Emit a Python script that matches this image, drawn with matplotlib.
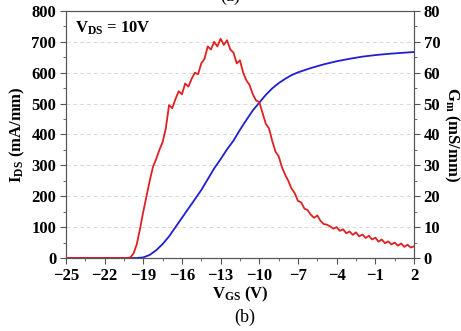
import numpy as np
import matplotlib
matplotlib.use('Agg')
import matplotlib.pyplot as plt

plt.rcParams['font.family'] = 'Liberation Serif'
plt.rcParams['mathtext.fontset'] = 'custom'
plt.rcParams['mathtext.rm'] = 'Liberation Serif:bold'
plt.rcParams['mathtext.it'] = 'Liberation Serif:bold'
plt.rcParams['mathtext.bf'] = 'Liberation Serif:bold'

# drain current (left axis), mA/mm
vgs_ids = [-25, -19.5, -19, -18.5, -18, -17.5, -17, -16.5, -16, -15.5, -15, -14.5, -14,
           -13.5, -13, -12.5, -12, -11.5, -11, -10.5, -10, -9.5, -9, -8.5, -8, -7.5, -7,
           -6, -5, -4, -3, -2, -1, 0, 1, 2]
ids = [0, 0, 2, 10, 25, 45, 70, 100, 130, 160, 190, 220, 255,
       290, 320, 352, 380, 415, 447, 478, 503, 528, 549, 566, 580, 592, 601,
       615, 627, 637, 645, 652, 657, 661, 664, 667]

# transconductance (right axis), mS/mm
vgs_gm = [-25, -20.25, -20, -19.75, -19.5, -19.25, -19, -18.75, -18.5, -18.25, -18,
          -17.75, -17.5, -17.25, -17, -16.75, -16.5, -16.25, -16, -15.75, -15.5,
          -15.25, -15, -14.75, -14.5, -14.25, -14, -13.75, -13.5, -13.25, -13,
          -12.75, -12.5, -12.25, -12, -11.75, -11.5, -11.25, -11, -10.75, -10.5,
          -10.25, -10, -9.75, -9.5, -9.25, -9, -8.75, -8.5, -8.25, -8,
          -7.75, -7.5, -7.25, -7, -6.75, -6.5, -6.25, -6, -5.75, -5.5,
          -5.25, -5, -4.75, -4.5, -4.25, -4, -3.75, -3.5, -3.25, -3,
          -2.75, -2.5, -2.25, -2, -1.75, -1.5, -1.25, -1, -0.75, -0.5,
          -0.25, 0, 0.25, 0.5, 0.75, 1, 1.25, 1.5, 1.75, 2]
gm = [0, 0, 0.2, 1.5, 4.5, 9.5, 15, 20, 25, 29.5, 32,
      35, 37.5, 42, 49.5, 48.5, 51.5, 54, 53, 56.5, 55.5,
      58, 60, 59.5, 63, 64.5, 68.5, 67.5, 70, 68.5, 71,
      69, 70.5, 67.5, 66.5, 63, 64, 60, 57.5, 56, 53,
      51, 50.5, 47, 43.5, 42, 38, 34.5, 33, 29.5, 27,
      25, 22.5, 21, 18.5, 18, 16, 15.5, 14, 13, 13.8,
      12, 11, 10.8, 10.2, 9.5, 10, 8.8, 9.3, 8, 8.6,
      7.5, 8.3, 7, 7.6, 6.5, 7.2, 6, 6.6, 5.3, 6,
      4.8, 5.4, 4.4, 5, 4, 4.7, 3.6, 4.3, 3.4, 3.8]

xticks = [-25, -22, -19, -16, -13, -10, -7, -4, -1, 2]

fig = plt.figure(figsize=(4.61, 3.31), dpi=100)
ax = fig.add_axes([0.143, 0.2205, 0.755, 0.7465])
ax2 = ax.twinx()

ax.plot(vgs_ids, ids, color='#1f1fd0', lw=1.3, zorder=3)
ax2.plot(vgs_gm, gm, color='#e02020', lw=1.3, zorder=3)

ax.set_xlim(-25, 2)
ax.set_ylim(0, 800)
ax2.set_ylim(0, 80)
ax.set_xticks(xticks)
ax.set_xticks(np.arange(-25, 2.1, 1.5), minor=True)
ax.set_yticks(np.arange(0, 801, 100))
ax.set_yticks(np.arange(0, 801, 50), minor=True)
ax2.set_yticks(np.arange(0, 81, 10))
ax2.set_yticks(np.arange(0, 81, 5), minor=True)
ax.yaxis.grid(True, ls=(0, (4, 3)), color='#d8d8d8', lw=0.7)
ax.set_axisbelow(True)

for a in (ax, ax2):
    for s in a.spines.values():
        s.set_color('#555555')
    a.tick_params(which='both', colors='#555555', labelcolor='black', labelsize=12)
    a.tick_params(which='major', length=4, pad=3)
    a.tick_params(which='minor', length=2.5)
    for lab in a.get_xticklabels() + a.get_yticklabels():
        lab.set_fontweight('bold')

ax.set_xlabel(r'V$_{\mathrm{GS}}$ (V)', fontsize=12, fontweight='bold', labelpad=1)
ax.set_ylabel(r'I$_{\mathrm{DS}}$ (mA/mm)', fontsize=12, fontweight='bold', labelpad=3)
ax2.set_ylabel(r'G$_{\mathrm{m}}$ (mS/mm)', fontsize=12, fontweight='bold', rotation=270, labelpad=15)

ax.text(0.025, 0.965, r'V$_{\mathrm{DS}}$ = 10V', transform=ax.transAxes,
        fontsize=12, fontweight='bold', va='top', ha='left')

fig.text(0.53, 0.015, '(b)', fontsize=13, ha='center', va='bottom')
fig.text(0.5, 1.012, '(a)', fontsize=13, ha='center', va='center')

fig.savefig('out.png', dpi=100)
